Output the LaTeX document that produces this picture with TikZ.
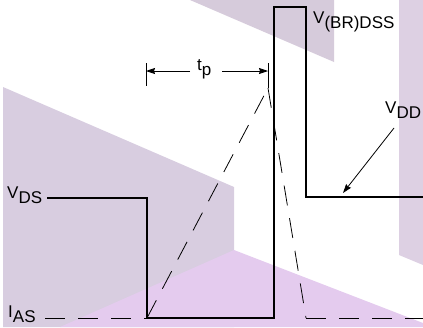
\documentclass[tikz,border=0pt]{standalone}
\usepackage{fontspec}
\setmainfont{Liberation Sans}
\usetikzlibrary{arrows.meta}
\definecolor{bggrey}{HTML}{D8CDE0}
\definecolor{bgtop}{HTML}{D6CBDB}
\definecolor{bgright}{HTML}{DDD0E3}
\definecolor{bgpink}{HTML}{E4CBEE}
\tikzset{
  wave/.style={line width=1.2pt, line join=miter},
  dashwave/.style={line width=0.8pt, dash pattern=on 20pt off 13pt},
  lbl/.style={inner sep=0pt, anchor=base west, font=\fontsize{17}{17}\selectfont},
  ptr/.style={line width=0.8pt, -{Stealth[length=9pt,width=6pt,inset=1pt]}},
  tick/.style={line width=0.8pt}
}
\newcommand{\lowsub}[1]{\raisebox{-5pt}{#1}}
\begin{document}
\begin{tikzpicture}[x=1pt,y=-1pt]
\useasboundingbox (0,0) rectangle (423,327);
% background shapes
\fill[bgtop] (190,0) -- (334,0) -- (334,62) -- cycle;
\fill[bgright] (399,0) -- (423,0) -- (423,265) -- (399,255) -- cycle;
\fill[bggrey] (3,87) -- (234,187) -- (234,327) -- (3,327) -- cycle;
\fill[bgpink] (60,327) -- (234,250) -- (423,323) -- (423,327) -- cycle;
% waveform points
\coordinate (vds0) at (47,198);
\coordinate (fall1) at (147,198);
\coordinate (low1) at (147,318);
\coordinate (low2) at (274,318);
\coordinate (top1) at (274,7);
\coordinate (top2) at (306,7);
\coordinate (vdd1) at (306,197);
\coordinate (vdd2) at (423,197);
\coordinate (ias0) at (45,318);
\coordinate (peak) at (268,88);
\coordinate (iasend) at (306,318);
\coordinate (iasR) at (423,318);
% solid waveform
\draw[wave] (vds0) -- (fall1) -- (low1) -- (low2) -- (top1) -- (top2) -- (vdd1) -- (vdd2);
% dashed current
\draw[dashwave] (ias0) -- (low1);
\draw[dashwave] (low1) -- (peak);
\draw[dashwave] (peak) -- (iasend);
\draw[dashwave] (iasend) -- (iasR);
% labels
\node[lbl] (VDS) at (7,198) {V\lowsub{DS}};
\node[lbl] (VBR) at (313,23) {V\lowsub{(BR)DSS}};
\node[lbl] (VDD) at (385,113) {V\lowsub{DD}};
\node[lbl] (IAS) at (8,317) {I\lowsub{AS}};
\node[lbl] (tp) at (197,70) {t\lowsub{p}};
% VDD pointer
\coordinate (vddfrom) at (394,128);
\coordinate (vddto) at (343,193);
\draw[ptr] (vddfrom) -- (vddto);
% tp dimension
\coordinate (tlt) at (146,63);
\coordinate (tlb) at (146,86);
\coordinate (trt) at (268,63);
\coordinate (trb) at (268,88);
\coordinate (tl) at (146,71);
\coordinate (tr) at (268,71);
\coordinate (tla) at (190,71);
\coordinate (tra) at (222,71);
\draw[tick] (tlt) -- (tlb);
\draw[tick] (trt) -- (trb);
\draw[ptr] (tla) -- (tl);
\draw[ptr] (tra) -- (tr);
\end{tikzpicture}
\end{document}
